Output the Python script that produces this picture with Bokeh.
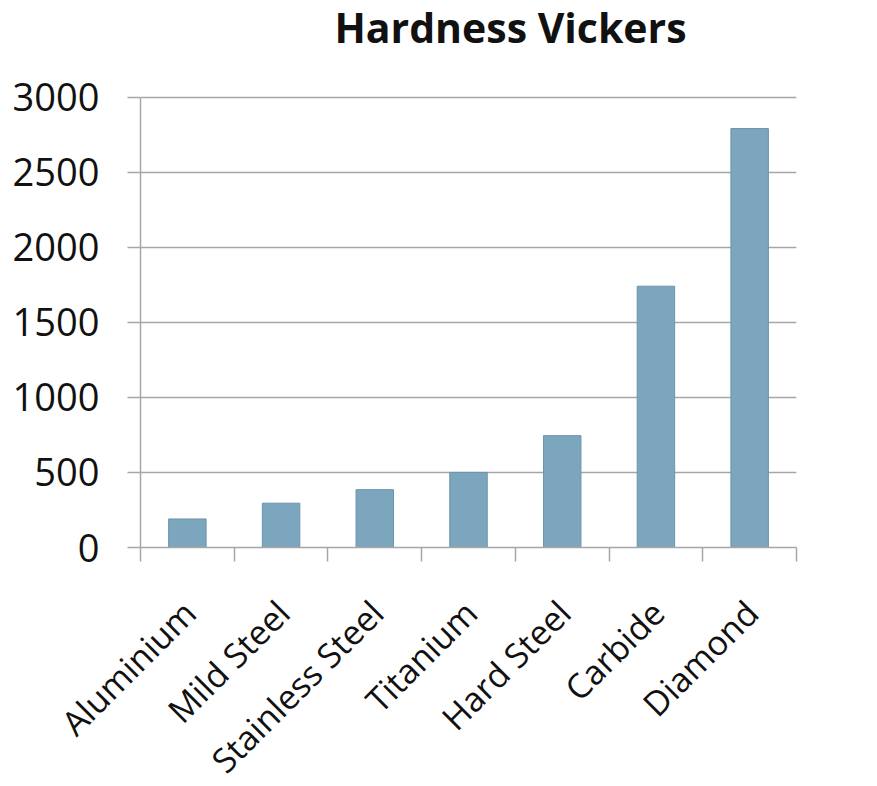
import math
from bokeh.plotting import figure
from bokeh.layouts import column
from bokeh.models import Range1d, FixedTicker
from bokeh.core.properties import value
from bokeh.embed import file_html
from bokeh.resources import INLINE

title = "Hardness Vickers"
categories = ["Aluminium", "Mild Steel", "Stainless Steel", "Titanium", "Hard Steel", "Carbide", "Diamond"]
hardness = [190, 295, 385, 500, 745, 1740, 2790]
y_ticks = [0, 500, 1000, 1500, 2000, 2500, 3000]

n = len(categories)
xs = [i + 0.5 for i in range(n)]

W = 877
LEFT, RIGHT = 140, 81
TOP_H = 571          # height of the chart part
BOT_H = 786 - TOP_H  # height of the rotated category-label strip
FRAME_BOTTOM = 547   # pixel row of value 0
slot_px = (W - LEFT - RIGHT) / n
y_top = 3000 * FRAME_BOTTOM / (FRAME_BOTTOM - 96.5)

grid_col = "#a6a6a6"
text_col = "#111111"

p = figure(width=W, height=TOP_H, output_backend="svg", toolbar_location=None,
           x_range=Range1d(0, n), y_range=Range1d(0, y_top),
           min_border_left=LEFT, min_border_right=RIGHT, min_border_top=0,
           min_border_bottom=TOP_H - FRAME_BOTTOM)
p.frame_align = False
p.outline_line_color = None
p.background_fill_color = "white"
p.border_fill_color = "white"

# title, drawn inside the (tall) frame
title_row = 26
p.text(x=[(510 - LEFT) / slot_px], y=[(FRAME_BOTTOM - title_row) * y_top / FRAME_BOTTOM], text=[title],
       text_align="center", text_baseline="alphabetic", text_font=value("Open Sans"),
       text_font_style="bold", text_font_size="41px", text_color=text_col)

p.vbar(x=xs, top=hardness, width=0.4, fill_color="#7ba6bd", line_color="#6b95ab", line_width=1)

xa = p.xaxis[0]
xa.ticker = FixedTicker(ticks=[], minor_ticks=list(range(n + 1)))
xa.major_tick_line_color = None
xa.major_tick_in = 0
xa.major_tick_out = 14
xa.major_label_standoff = 0
xa.minor_tick_in = 0
xa.minor_tick_out = 14
xa.minor_tick_line_color = grid_col
xa.minor_tick_line_width = 1.5
xa.axis_line_color = grid_col
xa.axis_line_width = 1.5

ya = p.yaxis[0]
ya.ticker = FixedTicker(ticks=y_ticks)
ya.bounds = (0, 3000)
ya.minor_tick_line_color = None
ya.major_tick_in = 0
ya.major_tick_out = 13
ya.major_tick_line_color = grid_col
ya.major_tick_line_width = 1.5
ya.axis_line_color = grid_col
ya.axis_line_width = 1.5
ya.major_label_text_font = "Open Sans"
ya.major_label_text_font_size = "38px"
ya.major_label_text_color = text_col
ya.major_label_standoff = 28

p.xgrid.grid_line_color = None
p.ygrid.ticker = FixedTicker(ticks=y_ticks)
p.ygrid.grid_line_color = grid_col
p.ygrid.grid_line_width = 1.5

# strip below with the rotated category labels, sharing the same horizontal scale
q = figure(width=W, height=BOT_H, output_backend="svg", toolbar_location=None,
           x_range=Range1d(-LEFT / slot_px, n + RIGHT / slot_px), y_range=Range1d(-BOT_H, 0),
           min_border_left=0, min_border_right=0, min_border_top=0, min_border_bottom=0)
q.frame_align = False
q.outline_line_color = None
q.axis.visible = False
q.grid.visible = False
q.background_fill_color = "white"
q.border_fill_color = "white"
label_drop = 606 - TOP_H
q.text(x=xs, y=[-label_drop] * n, text=categories, angle=math.pi / 4, x_offset=2,
       text_align="right", text_baseline="alphabetic", text_font=value("Open Sans"),
       text_font_size="34px", text_color=text_col)

layout = column(p, q, spacing=0)
open("out.html", "w").write(file_html(layout, INLINE))
